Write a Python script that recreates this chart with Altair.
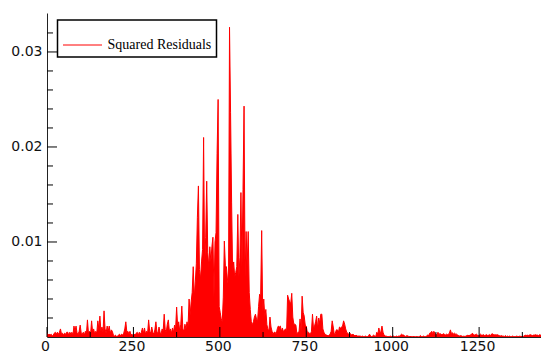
import altair as alt
import pandas as pd

# squared residuals, in units of 1e-3, one value every 3 observations
sq_resid_e3 = [
    0.4,0.2,0.3,0.2,0.3,0.1,0.2,0.4,0.5,0.3,
    0.5,0.3,0.5,0.85,0.3,0.4,0.2,0.4,0.3,0.5,
    0.5,0.2,0.5,0.3,0.5,0.2,1.15,0.6,1.15,0.4,
    0.3,0.6,1.25,0.4,0.3,0.5,0.2,0.6,0.3,1.8,
    0.4,0.6,0.3,1.7,0.5,0.85,0.3,0.6,0.4,1.7,
    0.85,2.2,0.6,1.05,0.5,2.75,0.85,0.4,1.15,0.6,
    1.15,0.4,0.75,0.6,0.2,0.1,0.2,0.05,0.1,0.2,
    0.3,0.1,0.3,0.2,0.4,0.85,1.6,0.5,0.6,0.3,
    0.6,0.2,0.3,0.1,0.3,0.2,0.4,0.5,0.2,0.5,
    0.3,0.5,0.95,0.4,0.95,0.3,0.6,0.4,1.8,0.6,
    0.4,1.05,0.5,0.3,0.75,1.6,0.5,0.4,1.05,0.5,
    0.3,0.85,0.6,2.4,0.75,0.5,1.35,1.8,0.6,0.85,
    0.4,0.95,0.5,1.25,0.85,3.15,1.05,1.6,0.6,1.35,
    3.25,0.85,0.6,1.35,0.85,1.6,1.05,4.0,2.3,3.7,
    4.7,7.4,4.2,5.8,7.7,12.6,15.9,7.1,6.1,7.9,
    9.2,21.0,7.4,10.5,16.4,8.9,7.4,9.5,7.9,9.5,
    10.5,4.2,10.0,11.0,19.3,25.0,3.2,2.6,1.9,1.6,
    4.2,10.1,7.5,7.4,6.1,5.3,32.6,23.6,14.2,6.8,
    7.9,6.3,6.8,7.4,12.9,6.3,8.4,15.2,7.4,15.5,
    24.3,6.3,11.1,7.4,11.1,4.7,2.9,1.6,1.3,1.6,
    2.1,2.4,1.9,1.6,3.2,4.5,4.3,11.2,2.6,4.0,
    2.1,2.9,1.3,0.85,0.6,2.1,1.05,0.6,0.3,0.5,
    0.5,0.3,0.85,1.15,1.05,1.15,0.6,0.95,0.5,0.75,
    0.85,0.5,4.4,4.0,3.7,3.5,4.6,2.1,1.35,1.35,
    1.25,0.3,0.5,0.5,1.9,0.6,4.3,2.6,2.2,1.25,
    1.15,0.5,0.5,0.4,0.3,0.6,2.4,0.85,1.15,1.6,
    2.2,0.85,2.0,1.45,2.4,2.4,0.85,0.5,0.3,0.2,
    0.2,0.1,0.2,0.3,0.6,1.7,1.05,0.3,0.4,0.75,
    0.75,0.5,1.05,0.95,1.05,1.15,1.7,1.35,0.85,0.5,
    0.4,0.3,0.4,0.3,0.2,0.3,0.2,0.1,0.2,0.1,
    0.1,0.1,0.1,0.05,0.1,0.05,0.05,0.1,0.05,0.05,
    0.1,0.3,0.1,0.05,0.1,0.2,0.1,0.05,0.5,0.3,
    0.95,0.4,0.6,1.15,0.5,0.2,0.1,0.1,0.05,0.05,
    0.05,0.1,0.05,0.05,0.1,0.05,0.05,0.1,0.05,0.1,
    0.1,0.2,0.3,0.2,0.2,0.1,0.05,0.15,0.1,0.05,
    0.05,0.05,0.02,0.05,0.05,0.02,0.05,0.05,0.02,0.05,
    0.15,0.05,0.05,0.1,0.05,0.05,0.1,0.2,0.15,0.4,
    0.45,0.6,0.35,0.6,0.4,0.3,0.2,0.5,0.3,0.35,
    0.3,0.2,0.35,0.3,0.2,0.3,0.25,0.3,0.4,0.75,
    0.35,0.45,0.3,0.4,0.3,0.3,0.2,0.15,0.1,0.15,
    0.1,0.05,0.1,0.05,0.1,0.15,0.2,0.1,0.25,0.15,
    0.4,0.3,0.2,0.25,0.3,0.2,0.15,0.2,0.3,0.2,
    0.2,0.25,0.15,0.2,0.25,0.15,0.2,0.25,0.15,0.35,
    0.3,0.2,0.25,0.2,0.25,0.2,0.15,0.1,0.15,0.1,
    0.1,0.05,0.15,0.05,0.1,0.05,0.1,0.05,0.05,0.1,
    0.05,0.05,0.05,0.1,0.05,0.05,0.1,0.05,0.05,0.05,
    0.1,0.2,0.15,0.2,0.15,0.2,0.25,0.2,0.15,0.2,
    0.2,0.25,0.2,0.2,0.15,0.25,0.2,0.15,0.25,0.2,
    0.2,0.15,0.25,0.2,0.2,
]
obs_step = 3
obs = [i * obs_step for i in range(len(sq_resid_e3))]

x_major = [0, 250, 500, 750, 1000, 1250]
x_minor = [125, 375, 625, 875, 1125, 1375]
y_major = [0.01, 0.02, 0.03]
y_minor = [0.002, 0.004, 0.006, 0.008, 0.012, 0.014, 0.016, 0.018,
           0.022, 0.024, 0.026, 0.028, 0.032]
series_name = "Squared Residuals"

df = pd.DataFrame({
    "obs": obs,
    "resid": [v / 1000 for v in sq_resid_e3],
    "series": series_name,
})

W, H = 494, 324
xs = alt.Scale(domain=[0, 1429], nice=False, zero=False)
ys = alt.Scale(domain=[0, 0.0341], nice=False)

x_axis = alt.Axis(
    values=x_major, ticks=False, tickSize=0, labelPadding=2, labelFlush=False,
    labelOverlap=False, labelFont="DejaVu Sans", labelFontSize=14,
    labelColor="#111111", domainColor="#222222", grid=False, title=None,
    format="d", labelOffset=-2)
y_axis = alt.Axis(
    values=y_major, ticks=False, tickSize=0, labelPadding=5, labelFlush=False,
    labelOverlap=False, labelFont="DejaVu Sans", labelFontSize=14,
    labelColor="#111111", domainColor="#222222", grid=False, title=None,
    format=".2f")

X_enc = alt.X("obs:Q", scale=xs, axis=x_axis)
Y_enc = alt.Y("resid:Q", scale=ys, axis=y_axis)

area = alt.Chart(df).mark_area(color="#ff0000", opacity=1, clip=True).encode(
    x=X_enc, y=Y_enc)

line = alt.Chart(df).mark_line(strokeWidth=1, clip=True).encode(
    x=X_enc, y=Y_enc,
    color=alt.Color("series:N", scale=alt.Scale(range=["#ff0000"]),
                    legend=alt.Legend(
                        title=None, orient="none", legendX=10.5, legendY=7,
                        symbolType="stroke", symbolSize=1521,
                        symbolStrokeWidth=1, labelFont="Liberation Serif",
                        labelFontSize=14, labelColor="black",
                        strokeColor="black", fillColor="white",
                        padding=5, labelOffset=5)))

ymaj = alt.Chart(pd.DataFrame({"v": y_major})).mark_rule(color="black").encode(
    y=alt.Y("v:Q", scale=ys, axis=y_axis), x=alt.value(0), x2=alt.value(10))
ymin = alt.Chart(pd.DataFrame({"v": y_minor})).mark_rule(color="black").encode(
    y=alt.Y("v:Q", scale=ys, axis=y_axis), x=alt.value(0), x2=alt.value(6))
xmaj = alt.Chart(pd.DataFrame({"v": x_major})).mark_rule(color="black").encode(
    x=alt.X("v:Q", scale=xs, axis=x_axis), y=alt.value(H), y2=alt.value(H - 10))
xmin = alt.Chart(pd.DataFrame({"v": x_minor})).mark_rule(color="black", clip=True).encode(
    x=alt.X("v:Q", scale=xs, axis=x_axis), y=alt.value(H), y2=alt.value(H - 5))

chart = alt.layer(area, line, ymaj, ymin, xmaj, xmin).properties(
    width=W, height=H,
    autosize=alt.AutoSizeParams(type="none"),
    padding={"left": 39, "top": 5, "right": 0, "bottom": 18},
    background="white",
).configure_view(stroke=None).configure_legend(strokeWidth=1.5)

chart.save("out.html", embed_options={"renderer": "svg", "actions": False})
